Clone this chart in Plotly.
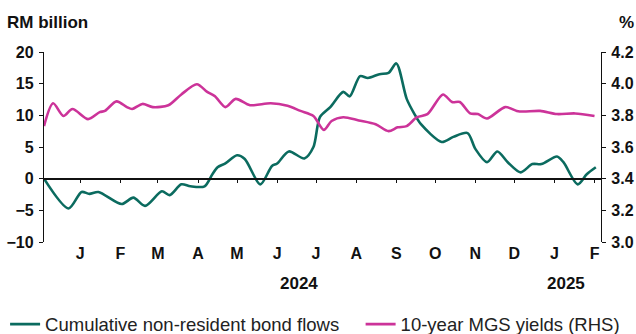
import plotly.graph_objects as go

# Cumulative non-resident bond flows (RM billion, LHS)
flow_dates = ["2023-12-04", "2023-12-23", "2024-01-02", "2024-01-08", "2024-01-15", "2024-02-02",
              "2024-02-11", "2024-02-20", "2024-03-04", "2024-03-10", "2024-03-19", "2024-03-26",
              "2024-04-06", "2024-04-12", "2024-04-16", "2024-04-22", "2024-05-01", "2024-05-07",
              "2024-05-19", "2024-05-28", "2024-06-01", "2024-06-10", "2024-06-22", "2024-06-29",
              "2024-07-04", "2024-07-12", "2024-07-22", "2024-07-27", "2024-08-04", "2024-08-10",
              "2024-08-19", "2024-08-26", "2024-09-01", "2024-09-09", "2024-09-15", "2024-09-20",
              "2024-10-06", "2024-10-15", "2024-10-26", "2024-11-01", "2024-11-10", "2024-11-18",
              "2024-11-26", "2024-12-06", "2024-12-15", "2024-12-22", "2025-01-03", "2025-01-08",
              "2025-01-19", "2025-01-26", "2025-02-02"]
flow_values = [0.0, -4.7, -2.1, -2.4, -2.1, -4.0,
               -3.0, -4.3, -2.0, -2.6, -0.9, -1.2,
               -1.2, 0.7, 1.8, 2.4, 3.7, 3.1,
               -0.9, 2.0, 2.4, 4.3, 3.2, 5.0,
               9.7, 11.3, 13.7, 13.0, 16.2, 15.9,
               16.5, 16.7, 18.2, 12.6, 10.2, 8.6,
               5.8, 6.6, 7.2, 4.7, 2.6, 4.3,
               2.6, 1.0, 2.3, 2.3, 3.5, 2.6,
               -0.9, 0.7, 1.8]

# 10-year MGS yields (%, RHS)
yield_dates = ["2023-12-04", "2023-12-11", "2023-12-19", "2023-12-26", "2024-01-07", "2024-01-16",
               "2024-01-20", "2024-01-29", "2024-02-06", "2024-02-10", "2024-02-18", "2024-02-26",
               "2024-03-09", "2024-03-19", "2024-03-31", "2024-04-08", "2024-04-14", "2024-04-22",
               "2024-04-30", "2024-05-11", "2024-05-27", "2024-06-09", "2024-06-19", "2024-06-29",
               "2024-07-07", "2024-07-13", "2024-07-22", "2024-08-03", "2024-08-16", "2024-08-26",
               "2024-09-02", "2024-09-09", "2024-09-17", "2024-09-25", "2024-10-07", "2024-10-14",
               "2024-10-20", "2024-10-28", "2024-11-03", "2024-11-10", "2024-11-24", "2024-12-03",
               "2024-12-08", "2024-12-21", "2025-01-03", "2025-01-17", "2025-02-01"]
yield_values = [3.732, 3.876, 3.796, 3.840, 3.776, 3.820,
                3.828, 3.888, 3.852, 3.840, 3.872, 3.852,
                3.864, 3.932, 3.996, 3.948, 3.920, 3.852,
                3.904, 3.864, 3.876, 3.860, 3.828, 3.796,
                3.708, 3.764, 3.788, 3.768, 3.744, 3.700,
                3.724, 3.732, 3.788, 3.808, 3.932, 3.884,
                3.884, 3.812, 3.808, 3.780, 3.852, 3.828,
                3.824, 3.828, 3.808, 3.812, 3.796]

month_ticks = ["2024-01-01", "2024-02-01", "2024-03-01", "2024-04-01", "2024-05-01", "2024-06-01",
               "2024-07-01", "2024-08-01", "2024-09-01", "2024-10-01", "2024-11-01", "2024-12-01",
               "2025-01-01", "2025-02-01"]
month_labels = ["J", "F", "M", "A", "M", "J", "J", "A", "S", "O", "N", "D", "J", "F"]
year_labels = ["2024", "2025"]
year_positions = ["2024-06-18", "2025-01-10"]

GREEN = "#0b6b5f"
PINK = "#cc3399"
FONT = "Liberation Sans"

fig = go.Figure()
fig.add_trace(go.Scatter(x=flow_dates, y=flow_values, name="Cumulative non-resident bond flows",
                         mode="lines", line=dict(color=GREEN, width=2.6, shape="spline", smoothing=0.8),
                         xaxis="x", yaxis="y", legend="legend"))
fig.add_trace(go.Scatter(x=yield_dates, y=yield_values, name="10-year MGS yields (RHS)",
                         mode="lines", line=dict(color=PINK, width=2.6, shape="spline", smoothing=0.8),
                         xaxis="x2", yaxis="y2", legend="legend2"))

x_range = ["2023-12-04", "2025-02-06"]
legend_font = dict(size=18.5, color="#222", family=FONT)
tick_font = dict(size=16, family=FONT, weight="bold", color="#111")

fig.update_layout(
    width=636, height=334,
    margin=dict(l=44, r=35, t=52, b=92, autoexpand=False),
    paper_bgcolor="white", plot_bgcolor="white",
    font=dict(family=FONT, color="#111"),
    showlegend=True,
    legend=dict(orientation="h", xref="container", yref="container", x=0.008, y=0.028,
                xanchor="left", yanchor="middle", font=legend_font, itemwidth=30),
    legend2=dict(orientation="h", xref="container", yref="container", x=0.567, y=0.028,
                 xanchor="left", yanchor="middle", font=legend_font, itemwidth=30),
    xaxis=dict(range=x_range, type="date", tickvals=month_ticks, ticktext=month_labels,
               ticks="", showline=False, showgrid=False, zeroline=False, automargin=False,
               tickfont=tick_font),
    xaxis2=dict(range=x_range, type="date", overlaying="x", anchor="free", position=1/3,
                matches="x", tickvals=month_ticks, showticklabels=False, ticks="outside",
                ticklen=4, tickwidth=1.3, tickcolor="#111", showline=True, linecolor="#111",
                linewidth=1.5, showgrid=False, zeroline=False, automargin=False),
    yaxis=dict(range=[-10, 20], dtick=5, showgrid=False, zeroline=False, showline=True,
               linecolor="#111", linewidth=1.3, ticks="outside", ticklen=4, tickwidth=1.3,
               tickcolor="#111", ticklabelstandoff=2, automargin=False, tickfont=tick_font),
    yaxis2=dict(range=[3.0, 4.2], dtick=0.2, tickformat=".1f", side="right", overlaying="y",
                anchor="x", showgrid=False, zeroline=False, showline=True, linecolor="#111",
                linewidth=1.3, ticks="outside", ticklen=4, tickwidth=1.3, tickcolor="#111",
                ticklabelstandoff=2, automargin=False, tickfont=tick_font),
)

for lbl, pos in zip(year_labels, year_positions):
    fig.add_annotation(x=pos, y=-0.22, xref="x", yref="paper", text=lbl, showarrow=False,
                       xanchor="center", yanchor="middle",
                       font=dict(size=17, family=FONT, weight="bold", color="#111"))

fig.add_annotation(x=-0.070, y=1.153, xref="paper", yref="paper", text="RM billion", showarrow=False,
                   xanchor="left", yanchor="middle",
                   font=dict(size=17, family=FONT, weight="bold", color="#111"))
fig.add_annotation(x=1.046, y=1.153, xref="paper", yref="paper", text="%", showarrow=False,
                   xanchor="center", yanchor="middle",
                   font=dict(size=17, family=FONT, weight="bold", color="#111"))

fig.write_html("out.html")
